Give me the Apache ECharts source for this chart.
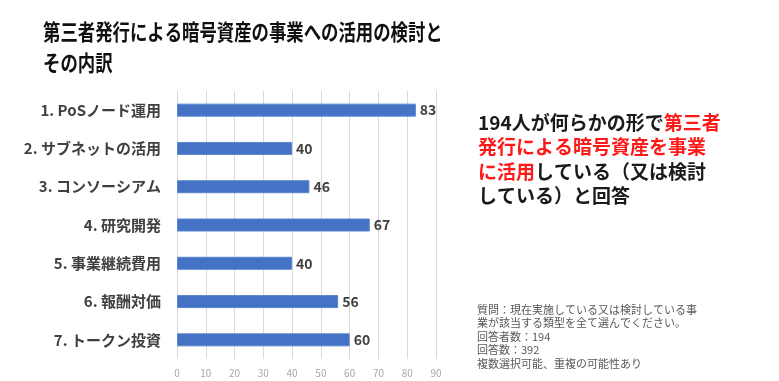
<!DOCTYPE html>
<html>
<head>
<meta charset="utf-8">
<script src="https://cdn.jsdelivr.net/npm/echarts@6/dist/echarts.min.js"></script>
<style>html,body{margin:0;padding:0;background:#fff;}#c{width:779px;height:381px;}</style>
</head>
<body>
<div id="c"></div>
<script>
const categories = ['1. PoSノード運用','2. サブネットの活用','3. コンソーシアム','4. 研究開発','5. 事業継続費用','6. 報酬対価','7. トークン投資'];
const values = [83, 40, 46, 67, 40, 56, 60];
const xTicks = [0, 10, 20, 30, 40, 50, 60, 70, 80, 90];

const FONT = '"Noto Sans CJK JP", "Noto Sans", sans-serif';
const chart = echarts.init(document.getElementById('c'));
chart.setOption({
  backgroundColor: '#ffffff',
  animation: false,
  textStyle: { fontFamily: FONT },
  grid: { left: 177, right: 343, top: 91, bottom: 22, containLabel: false },
  xAxis: {
    type: 'value',
    min: xTicks[0],
    max: xTicks[xTicks.length - 1],
    interval: 10,
    axisLine: { show: false },
    axisTick: { show: false },
    splitLine: { show: true, lineStyle: { color: '#d9d9d9', width: 1 } },
    axisLabel: { color: '#a6a6a6', fontSize: 10, margin: 9, fontFamily: FONT }
  },
  yAxis: {
    type: 'category',
    data: categories,
    inverse: true,
    axisLine: { show: false },
    axisTick: { show: false },
    axisLabel: { color: '#404040', fontSize: 15, fontWeight: 'bold', margin: 16, fontFamily: FONT }
  },
  series: [{
    type: 'bar',
    data: values,
    barWidth: 13,
    itemStyle: { color: '#4472C4', borderColor: '#5b84cf', borderWidth: 1 },
    label: { show: true, position: 'right', distance: 4, color: '#404040', fontSize: 14, fontWeight: 'bold', fontFamily: FONT }
  }],
  graphic: [
    {
      type: 'text', left: 43, top: 16, scaleX: 0.79,
      style: {
        text: '第三者発行による暗号資産の事業への活用の検討と\nその内訳',
        fill: '#111111', font: 'bold 22px ' + FONT, lineHeight: 31
      }
    },
    {
      type: 'text', left: 478, top: 113,
      style: {
        text: '{k|194人が何らかの形で}{r|第三者}\n{r|発行による暗号資産を事業}\n{r|に活用}{k|している（又は検討}\n{k|している）と回答}',
        rich: {
          k: { fill: '#1a1a1a', font: 'bold 19px ' + FONT, lineHeight: 24.5 },
          r: { fill: '#ff1a1a', font: 'bold 19px ' + FONT, lineHeight: 24.5 }
        }
      }
    },
    {
      type: 'text', left: 477, top: 303,
      style: {
        text: '質問：現在実施している又は検討している事\n業が該当する類型を全て選んでください。\n回答者数：194\n回答数：392\n複数選択可能、重複の可能性あり',
        fill: '#595959', font: '11px ' + FONT, lineHeight: 13.5
      }
    }
  ]
});
</script>
</body>
</html>
